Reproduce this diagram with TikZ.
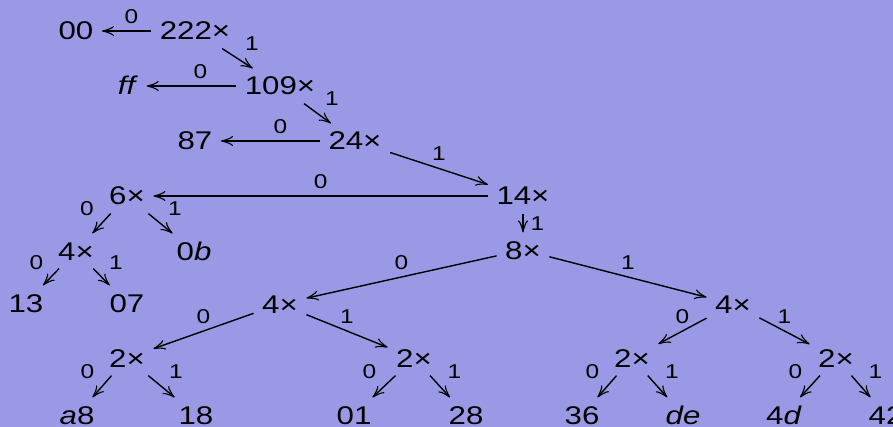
\documentclass[tikz,border=0pt]{standalone}
\usepackage{fontspec}
\setmainfont{Liberation Sans}[FakeStretch=1.22]
\usepackage{tikz}
\usetikzlibrary{arrows.meta}
\definecolor{slidebg}{RGB}{153,153,230}
\tikzset{
    tree node/.style={
        inner sep=4.1pt,
        text height=9pt,text depth=0pt,
        font=\fontsize{12.8}{14}\selectfont
    },
    bit label/.style={
        inner sep=3.5pt,
        text height=7pt,text depth=0pt,
        font=\fontsize{10}{11}\selectfont
    },
    h lbl/.style={pos=.4,above},
    t lbl/.style={midway,above},
    l lbl/.style={midway,above left},
    r lbl/.style={midway,above right},
    v lbl/.style={midway,right},
    >={Classical TikZ Rightarrow[length=6pt,width=5pt]}
}

\begin{document}
\begin{tikzpicture}[x=0.5pt,y=-0.5pt]
\useasboundingbox (0,0) rectangle (893,427);
\fill[slidebg] (0,0) rectangle (893,427);
% spine and side leaves
\foreach \name/\x/\y/\txt in {r0/195/31/222×,l00/76/31/00,r1/280/86/109×,lff/128/86/\textit{ff},
    r2/355/141/24×,l87/195/141/87,r3/523/196/14×,a6/127/196/6×,r4/523/250/8×,
    a4/76/251/4×,l0b/194/251/0\textit{b},l13/26/303/13,l07/127/303/07,
    b4/280/304/4×,c4/733/304/4×}
    \node[tree node] (\name) at (\x,\y) {\txt};
% bottom levels
\foreach \name/\x/\y/\txt in {b2a/127/358/2×,b2b/414/358/2×,c2a/632/358/2×,c2b/836/358/2×,
    la8/77/415/\textit{a}8,l18/196/415/18,l01/354/415/01,l28/466/415/28,
    l36/582/415/36,lde/683/415/\textit{de},l4d/784/415/4\textit{d},l42/886/415/42}
    \node[tree node] (\name) at (\x,\y) {\txt};
\foreach \from/\to/\bit/\where in {r0/l00/0/h lbl,r0/r1/1/r lbl,r1/lff/0/h lbl,r1/r2/1/r lbl,
    r2/l87/0/h lbl,r2/r3/1/t lbl,r3/a6/0/t lbl,r3/r4/1/v lbl,
    r4/b4/0/t lbl,r4/c4/1/t lbl,a6/a4/0/l lbl,a6/l0b/1/r lbl,a4/l13/0/l lbl,a4/l07/1/r lbl,
    b4/b2a/0/t lbl,b4/b2b/1/t lbl,c4/c2a/0/t lbl,c4/c2b/1/t lbl,
    b2a/la8/0/l lbl,b2a/l18/1/r lbl,b2b/l01/0/l lbl,b2b/l28/1/r lbl,
    c2a/l36/0/l lbl,c2a/lde/1/r lbl,c2b/l4d/0/l lbl,c2b/l42/1/r lbl}
    \draw[->,line width=0.7pt] (\from) -- node[bit label,\where] {\bit} (\to);
\end{tikzpicture}
\end{document}
